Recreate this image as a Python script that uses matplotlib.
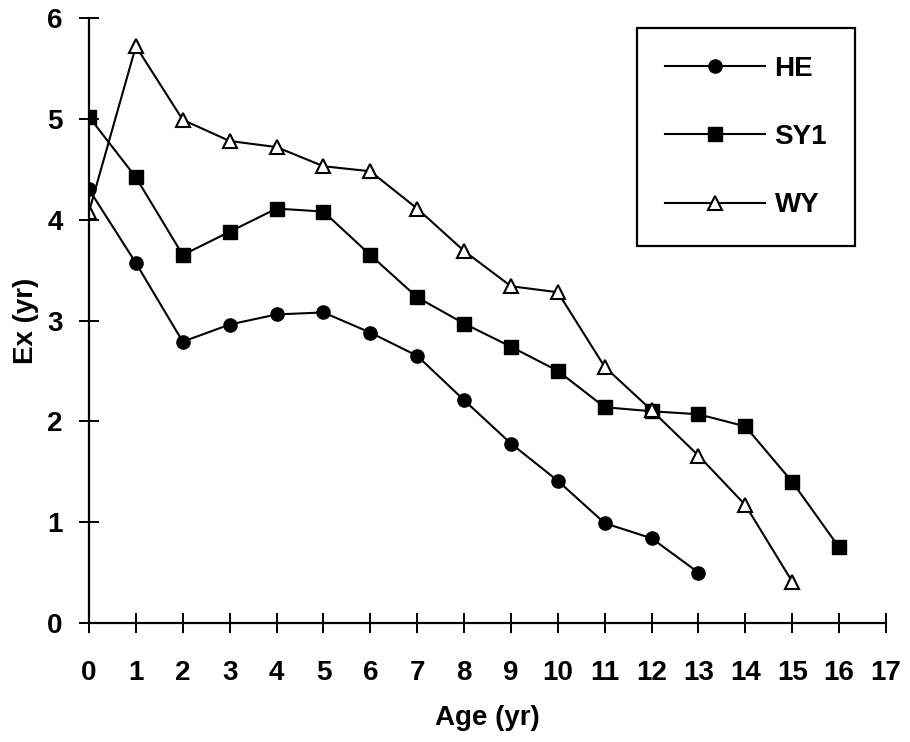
import matplotlib
matplotlib.use("Agg")
import matplotlib.pyplot as plt

plt.rcParams['font.family'] = ['Liberation Sans Narrow', 'Liberation Sans', 'DejaVu Sans']

# データ
age_he = list(range(0, 14))
ex_he = [4.30, 3.57, 2.79, 2.96, 3.06, 3.08, 2.88, 2.65, 2.21, 1.78, 1.41, 0.99, 0.84, 0.50]

age_sy1 = list(range(0, 17))
ex_sy1 = [5.02, 4.42, 3.65, 3.88, 4.11, 4.08, 3.65, 3.23, 2.97, 2.74, 2.50, 2.14, 2.10, 2.07, 1.95, 1.40, 0.75]

age_wy = list(range(0, 16))
ex_wy = [4.08, 5.72, 4.99, 4.78, 4.72, 4.53, 4.48, 4.11, 3.69, 3.34, 3.28, 2.54, 2.11, 1.66, 1.17, 0.41]

x_ticks = list(range(0, 18))
y_ticks = list(range(0, 7))

fs = 20

fig = plt.figure(figsize=(9.1, 7.42), dpi=100)
ax = fig.add_axes([89 / 910, 119 / 742, 797 / 910, 605 / 742])

ax.plot(age_he, ex_he, color="black", lw=1.5, marker="o", ms=9.5,
        mfc="black", mec="black", label="HE")
ax.plot(age_sy1, ex_sy1, color="black", lw=1.5, marker="s", ms=9.5,
        mfc="black", mec="black", label="SY1")
ax.plot(age_wy, ex_wy, color="black", lw=1.5, marker="^", ms=10.5,
        mfc="white", mec="black", mew=1.5, label="WY")

ax.set_xlim(0, 17)
ax.set_ylim(0, 6)
ax.set_xticks(x_ticks)
ax.set_yticks(y_ticks)
ax.spines["top"].set_visible(False)
ax.spines["right"].set_visible(False)
ax.spines["left"].set_linewidth(1.6)
ax.spines["bottom"].set_linewidth(1.6)
ax.tick_params(direction="inout", length=14, width=1.4, labelsize=fs)
ax.tick_params(axis="x", pad=20)
ax.tick_params(axis="y", pad=12)
for lab in ax.get_xticklabels() + ax.get_yticklabels():
    lab.set_fontweight("bold")

ax.set_xlabel("Age (yr)", fontsize=fs, fontweight="bold", labelpad=13)
ax.set_ylabel("Ex (yr)", fontsize=fs, fontweight="bold", labelpad=6)

leg = ax.legend(loc="upper left", bbox_to_anchor=(637 / 910, 1 - 28 / 742),
                bbox_transform=fig.transFigure, fancybox=False, framealpha=1,
                edgecolor="black", fontsize=fs, handlelength=3.6,
                labelspacing=1.52, borderpad=1.0, handletextpad=0.35,
                borderaxespad=0)
leg.get_frame().set_linewidth(1.6)
for t in leg.get_texts():
    t.set_fontweight("bold")

fig.savefig("out.png", dpi=100)
